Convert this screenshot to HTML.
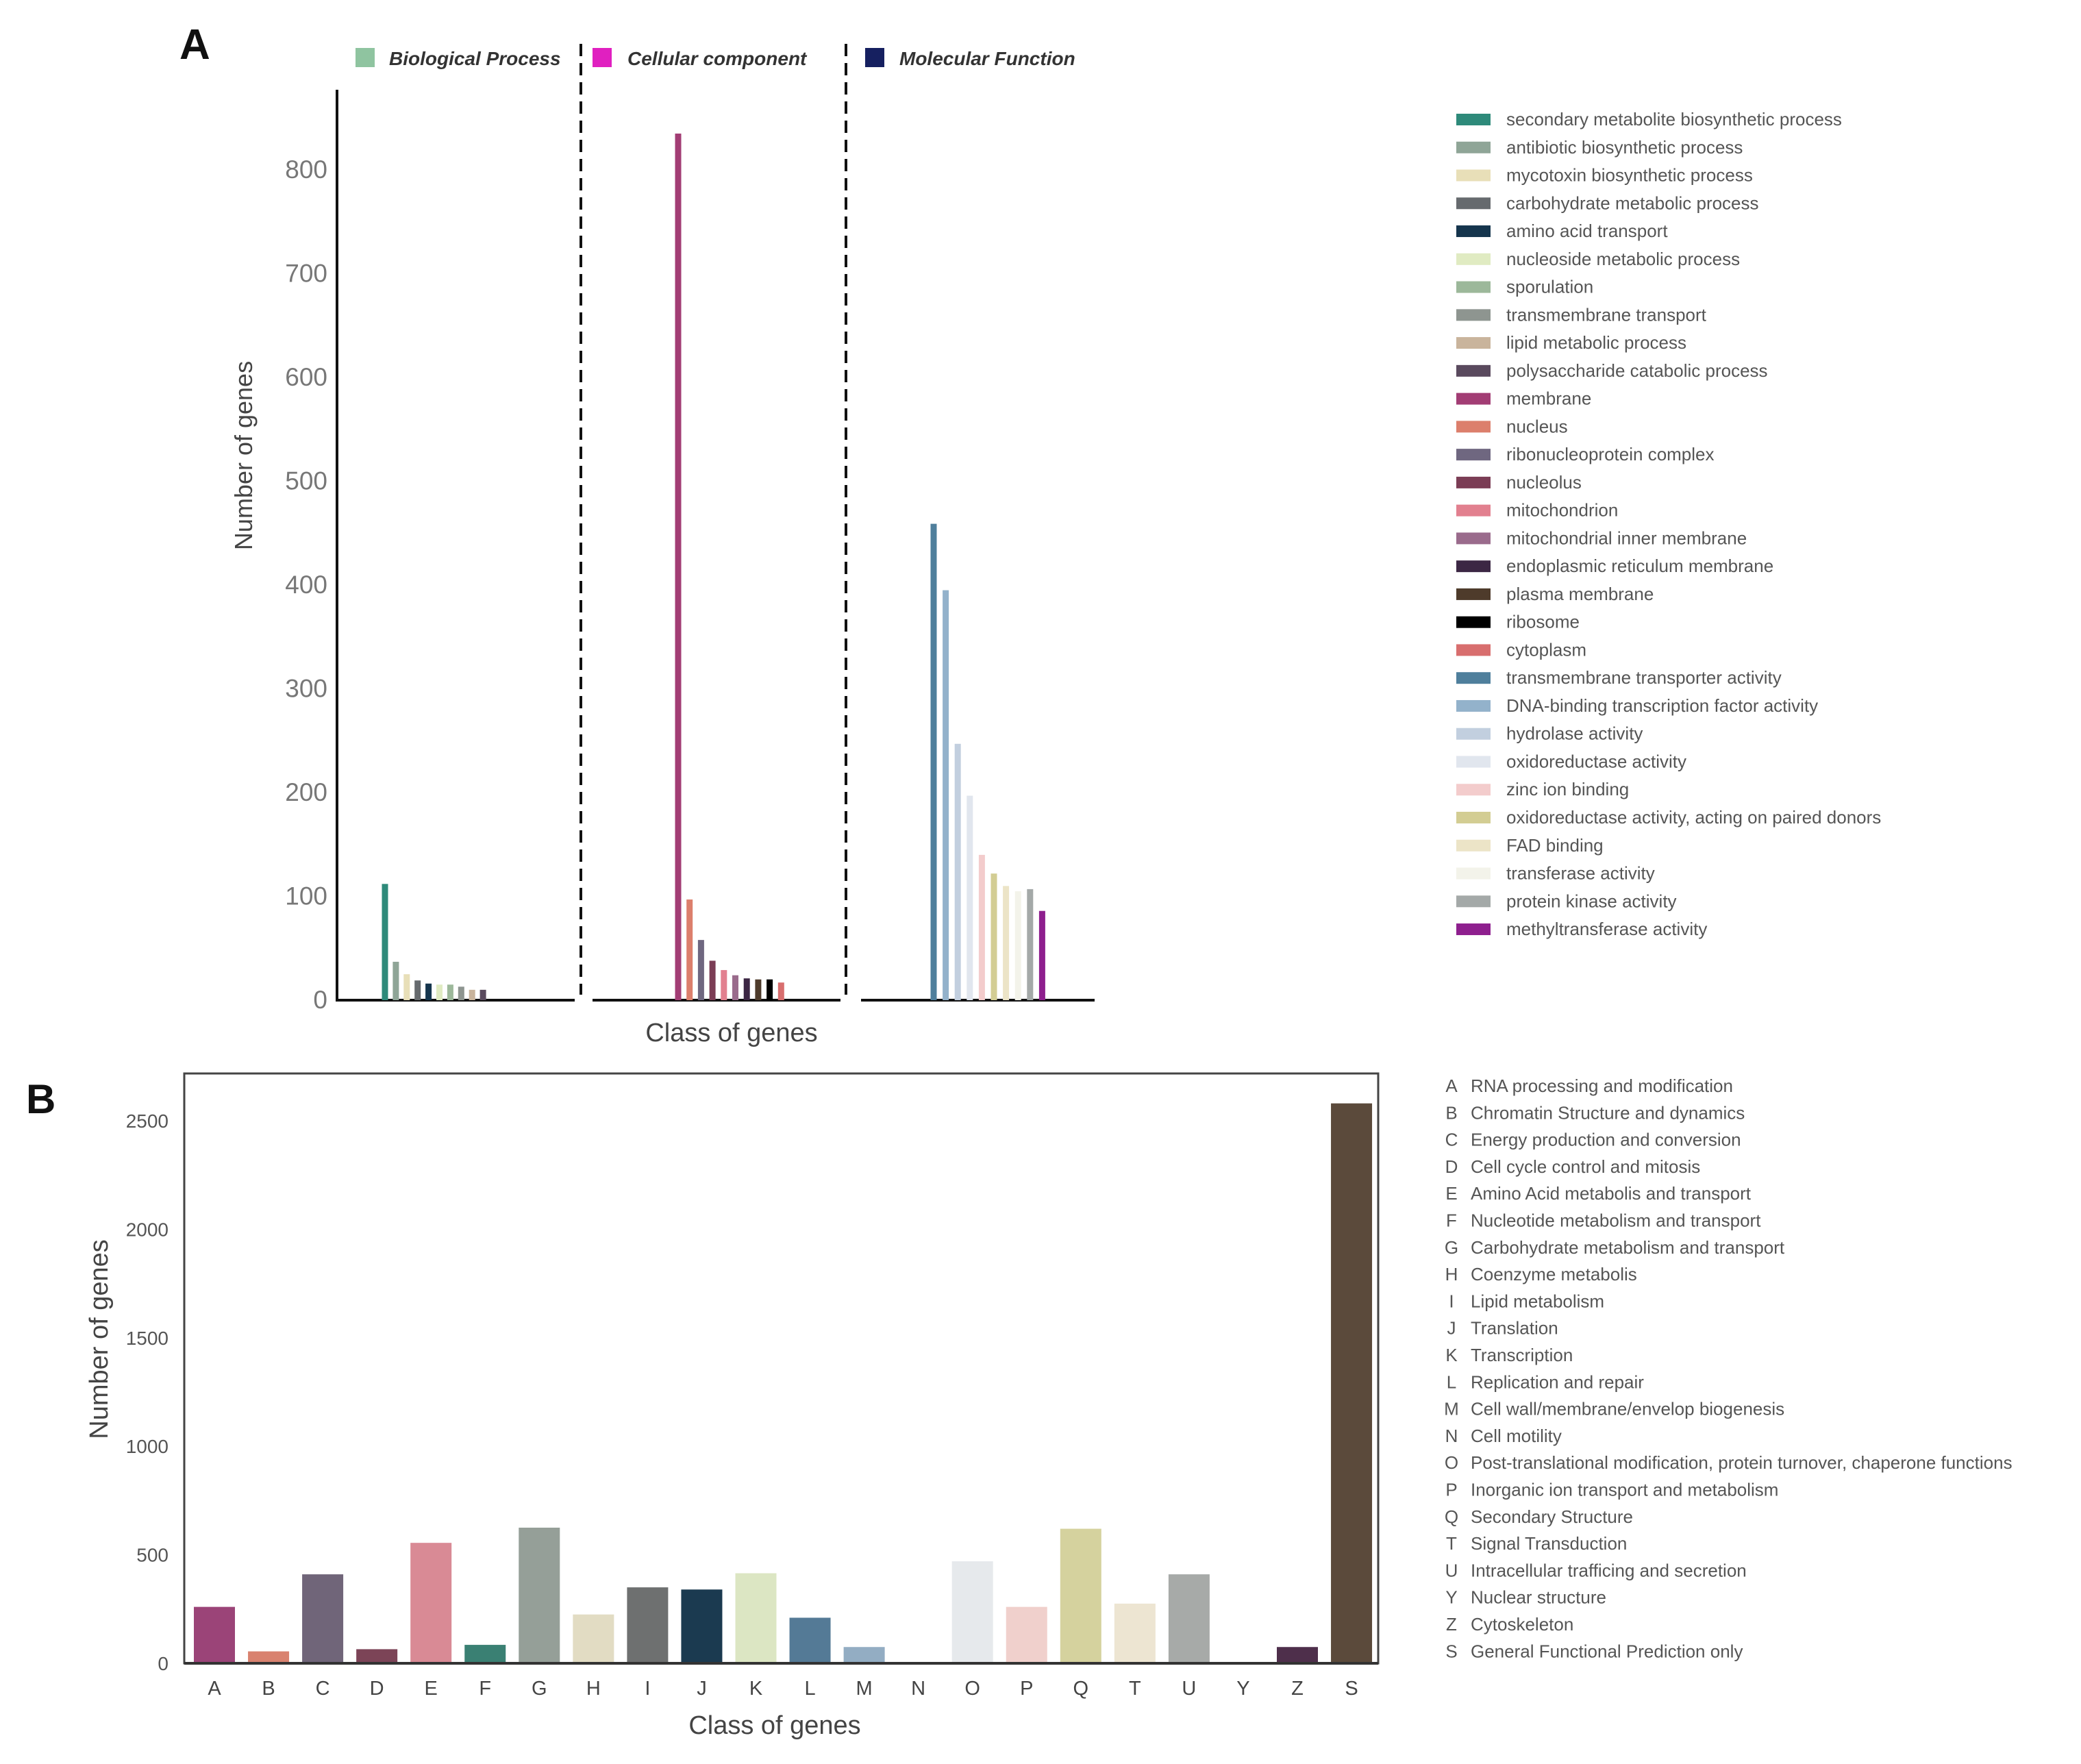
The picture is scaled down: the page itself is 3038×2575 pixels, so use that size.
<!DOCTYPE html>
<html><head><meta charset="utf-8"><style>
html,body{margin:0;padding:0;background:#fff}
svg{display:block}
text{font-family:"Liberation Sans",sans-serif}
</style></head><body>
<svg id="chart" width="3038" height="2575" viewBox="0 0 3038 2575" xmlns="http://www.w3.org/2000/svg">
<rect width="3038" height="2575" fill="#fff"/>
<g id="panelA"></g>
<g id="panelB"></g>
</svg>
<script>
// ---- Panel A data ----
const goCategories = ["secondary metabolite biosynthetic process","antibiotic biosynthetic process","mycotoxin biosynthetic process","carbohydrate metabolic process","amino acid transport","nucleoside metabolic process","sporulation","transmembrane transport","lipid metabolic process","polysaccharide catabolic process","membrane","nucleus","ribonucleoprotein complex","nucleolus","mitochondrion","mitochondrial inner membrane","endoplasmic reticulum membrane","plasma membrane","ribosome","cytoplasm","transmembrane transporter activity","DNA-binding transcription factor activity","hydrolase activity","oxidoreductase activity","zinc ion binding","oxidoreductase activity, acting on paired donors","FAD binding","transferase activity","protein kinase activity","methyltransferase activity"];
const goColors = ["#2e8a7a","#8fa597","#e8dfb8","#666a6e","#15354d","#e0ebc2","#9cb89a","#8e9590","#c9b49c","#5a4a5e","#a23d74","#dc7f6c","#6f6780","#7b3d55","#e2808f","#9a6b8c","#3c2744","#4e3b2b","#000000","#d86e6e","#4f7f9c","#93b2cb","#c2cfdf","#e1e6ee","#f3cccc","#d3cd93","#ece4c7","#f3f3ea","#a4a9a8","#8e1f8e"];
const bpValues = [112,37,25,19,16,15,15,13,10,10];
const ccValues = [835,97,58,38,29,24,21,20,20,17];
const mfValues = [459,395,247,197,140,122,110,105,107,86];
const aTicks = [0,100,200,300,400,500,600,700,800];

// ---- Panel B data ----
const cogLetters = ["A","B","C","D","E","F","G","H","I","J","K","L","M","N","O","P","Q","T","U","Y","Z","S"];
const cogValues = [260,55,410,65,555,85,625,225,350,340,415,210,75,0,470,260,620,275,410,0,75,2580];
const cogColors = ["#9b4478","#d9826f","#706579","#7c4457","#d98a95","#3a8073","#959f98","#e2dcc3","#6e7070","#1b3a50","#dce6c3","#547a96","#93adc3","#cccccc","#e6e9ec","#f0d0cc","#d5d29e","#ede5d2","#a7aaa8","#cccccc","#4e2f4b","#5b4a3b"];
const cogNames = ["RNA processing and modification","Chromatin Structure and dynamics","Energy production and conversion","Cell cycle control and mitosis","Amino Acid metabolis and transport","Nucleotide metabolism and transport","Carbohydrate metabolism and transport","Coenzyme metabolis","Lipid metabolism","Translation","Transcription","Replication and repair","Cell wall/membrane/envelop biogenesis","Cell motility","Post-translational modification, protein turnover, chaperone functions","Inorganic ion transport and metabolism","Secondary Structure","Signal Transduction","Intracellular trafficing and secretion","Nuclear structure","Cytoskeleton","General Functional Prediction only"];
const bTicks = [0,500,1000,1500,2000,2500];

const NS="http://www.w3.org/2000/svg";
function mk(parent, tag, attrs, txt){
  const e=document.createElementNS(NS,tag);
  for(const k in attrs) e.setAttribute(k,attrs[k]);
  if(txt!==undefined) e.textContent=txt;
  parent.appendChild(e); return e;
}
const A=document.getElementById('panelA');
const B=document.getElementById('panelB');

// ---------- Panel A ----------
const yA = v => 1460 - v*1.515;
let t;
t=mk(A,'text',{x:262,y:86,'font-size':62,'font-weight':'bold',fill:'#111'},'A');


let l=mk(A,'line',{x1:492,y1:131,x2:492,y2:1462,stroke:'#111','stroke-width':4});


[[490,839],[865,1227],[1257,1598]].forEach(s=>{
  const ln=mk(A,'line',{x1:s[0],y1:1460,x2:s[1],y2:1460,stroke:'#111','stroke-width':4});
  
  
});
[848,1235].forEach(x=>{
  const d=mk(A,'line',{x1:x,y1:64,x2:x,y2:1452,stroke:'#111','stroke-width':4,'stroke-dasharray':'18 10'});
  
  
});
aTicks.forEach(v=>{
  const tx=mk(A,'text',{x:478,y:yA(v)+12,'font-size':37,'text-anchor':'end',fill:'#777'},String(v));
  
  
});
t=mk(A,'text',{x:0,y:0,'font-size':36,'text-anchor':'middle',fill:'#444',transform:'translate(368,665) rotate(-90)'},'Number of genes');


t=mk(A,'text',{x:1068,y:1520,'font-size':38,'text-anchor':'middle',fill:'#444'},'Class of genes');


[["Biological Process","#8fc4a0",519,568],["Cellular component","#e020c0",865,916],["Molecular Function","#162060",1263,1313]].forEach(h=>{
  const r=mk(A,'rect',{x:h[2],y:70,width:28,height:28,fill:h[1]});
  
  
  const tt=mk(A,'text',{x:h[3],y:95,'font-size':28,'font-weight':'bold','font-style':'italic',fill:'#333'},h[0]);
  
  
});
const groups=[[bpValues,562,15.9,0],[ccValues,990,16.7,10],[mfValues,1363,17.6,20]];
groups.forEach(g=>{
  g[0].forEach((v,i)=>{
    const cx=g[1]+i*g[2];
    const r=mk(A,'rect',{x:cx-4.5,y:yA(v),width:9,height:1460-yA(v),fill:goColors[g[3]+i]});
    
    
  });
});
goCategories.forEach((c,i)=>{
  const y=174+i*40.76;
  const r=mk(A,'rect',{x:2126,y:y-8,width:50,height:17,fill:goColors[i]});
  
  
  const tt=mk(A,'text',{x:2199,y:y+9,'font-size':26,fill:'#555'},c);
  
  
});

// ---------- Panel B ----------
const yB = v => 2428 - v*0.3168;
const xB = i => 313 + i*79.05;
t=mk(B,'text',{x:38,y:1625,'font-size':60,'font-weight':'bold',fill:'#111'},'B');


let fr=mk(B,'rect',{x:269,y:1567,width:1743,height:861,fill:'none',stroke:'#444','stroke-width':3});


bTicks.forEach(v=>{
  const tx=mk(B,'text',{x:246,y:yB(v)+10,'font-size':28,'text-anchor':'end',fill:'#555'},String(v));
  
  
});
cogValues.forEach((v,i)=>{
  if(v>0){
    const r=mk(B,'rect',{x:xB(i)-30,y:yB(v),width:60,height:2428-yB(v),fill:cogColors[i]});
    
    
  }
  const tx=mk(B,'text',{x:xB(i),y:2474,'font-size':29,'text-anchor':'middle',fill:'#444'},cogLetters[i]);
  
  
});
let bx=mk(B,'line',{x1:269,y1:2428,x2:2012,y2:2428,stroke:'#333','stroke-width':4});


t=mk(B,'text',{x:0,y:0,'font-size':38,'text-anchor':'middle',fill:'#444',transform:'translate(157,1955) rotate(-90)'},'Number of genes');


t=mk(B,'text',{x:1131,y:2531,'font-size':38,'text-anchor':'middle',fill:'#444'},'Class of genes');


cogLetters.forEach((c,i)=>{
  const y=1585+i*39.3;
  const a=mk(B,'text',{x:2119,y:y+9,'font-size':26,'text-anchor':'middle',fill:'#555'},c);
  
  
  const b=mk(B,'text',{x:2147,y:y+9,'font-size':26,fill:'#555'},cogNames[i]);
  
  
});
</script>
</body></html>
